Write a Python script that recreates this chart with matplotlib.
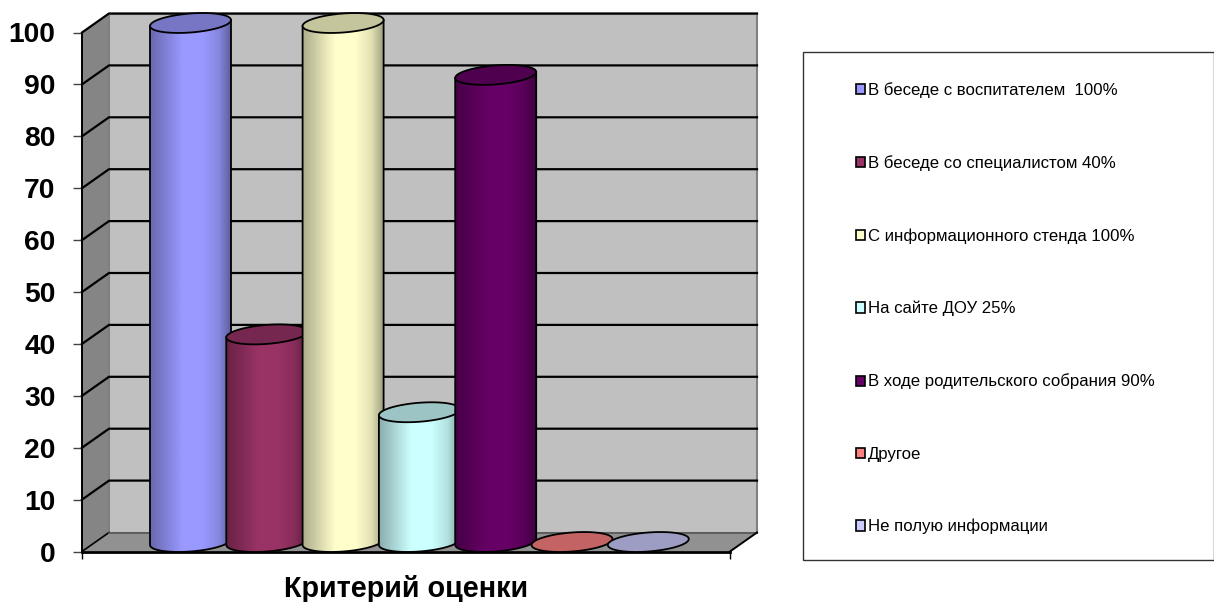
import numpy as np
import matplotlib
matplotlib.use('Agg')
import matplotlib.pyplot as plt
from matplotlib.patches import Patch, Polygon, Rectangle

labels = ['В беседе с воспитателем  100%', 'В беседе со специалистом 40%',
          'С информационного стенда 100%', 'На сайте ДОУ 25%',
          'В ходе родительского собрания 90%', 'Другое', 'Не полую информации']
values = [100, 40, 100, 25, 90, 0, 0]
colors = ['#9999FF', '#993366', '#FFFFCC', '#CCFFFF', '#660066', '#FF8080', '#CCCCFF']
yticks = [0, 10, 20, 30, 40, 50, 60, 70, 80, 90, 100]

W = 1214
H = 602
# front plane of the fake 3d box, in pixels
left = 82
right = 730
y0 = 551.5
y100 = 32.5
step = 76.3       # pixels between bars
first = 177.0     # front position of first bar
depth_x = 27.0
depth_y = 19.0

plt.rcParams['font.family'] = ['Liberation Sans', 'DejaVu Sans']

fig = plt.figure(figsize=(W / 100, H / 100), dpi=100)
ax = fig.add_axes([left / W, 1 - y0 / H, (right - left) / W, (y0 - y100) / H])
ax.patch.set_visible(False)

sx = step
sy = (y0 - y100) / 100
xmin = (left - first) / step
xmax = (right - first) / step
dx = depth_x / sx
dy = depth_y / sy


def shade(color, f):
    return tuple(c * f for c in matplotlib.colors.to_rgb(color))


def arc(i, v, t):
    # sheared ellipse, half way into the depth of the box
    a = 40.5
    b = 9.5
    s = 3.0
    x = i + dx / 2 + a * np.cos(t) / sx
    y = v + dy / 2 + (b * np.sin(t) + s * np.cos(t)) / sy
    return np.column_stack([x, y])


# walls
ax.add_patch(Polygon([(xmin, 0), (xmin + dx, dy), (xmin + dx, 100 + dy), (xmin, 100)],
                     fc='#858585', ec='none', zorder=1, clip_on=False))
ax.add_patch(Rectangle((xmin + dx, dy), xmax - xmin, 100, fc='#C0C0C0', ec='#808080',
                       lw=1.5, zorder=1, clip_on=False))
ax.add_patch(Polygon([(xmin, 0), (xmin + dx, dy), (xmax + dx, dy), (xmax, 0)],
                     fc='#919191', ec='none', zorder=1, clip_on=False))
for v in yticks[1:]:
    ax.plot([xmin, xmin + dx, xmax + dx], [v, v + dy, v + dy], color='black', lw=1.6,
            zorder=1.5, clip_on=False, solid_joinstyle='miter')
ax.plot([xmin, xmin + dx], [0, dy], color='black', lw=1.2, zorder=1.5, clip_on=False)
ax.plot([xmin + dx, xmax + dx], [dy, dy], color='#555555', lw=1.2, zorder=1.5, clip_on=False)
ax.plot([xmax, xmax + dx], [0, dy], color='black', lw=1.4, zorder=1.5, clip_on=False)

# cylinders
lo = np.linspace(np.pi, 2 * np.pi, 60)
full = np.linspace(0, 2 * np.pi, 120)
pos = [0.0, 0.15, 0.4, 0.65, 0.85, 1.0]
mult = [0.68, 0.8, 1.0, 1.0, 0.88, 0.62]
for i in range(len(values)):
    v = values[i]
    z = 3 + i
    if v > 0:
        bottom = arc(i, 0, lo)
        top = arc(i, v, lo)[::-1]
        body = Polygon(np.vstack([bottom, top]), fc='none', ec='none', zorder=z, clip_on=False)
        ax.add_patch(body)
        xs = np.linspace(0, 1, 200)
        f = np.interp(xs, pos, mult)
        grad = np.array([[shade(colors[i], k) for k in f]])
        x1 = i + dx / 2 - 40.5 / sx
        x2 = i + dx / 2 + 40.5 / sx
        im = ax.imshow(grad, extent=[x1, x2, -5, v + 10], aspect='auto', zorder=z,
                       interpolation='bilinear')
        im.set_clip_path(body)
        im.set_clip_box(fig.bbox)
        edge = np.vstack([top[-1:], bottom, top[:1]])
        ax.plot(edge[:, 0], edge[:, 1], color='black', lw=1.3, zorder=z + 0.1, clip_on=False)
    cap = arc(i, v, full)
    ax.add_patch(Polygon(cap, fc=shade(colors[i], 0.77), ec='black', lw=1.3, zorder=z + 0.2,
                         clip_on=False))

ax.set_xlim(xmin, xmax)
ax.set_ylim(0, 100)

for name in ['top', 'right']:
    ax.spines[name].set_visible(False)
ax.spines['left'].set_linewidth(1.4)
ax.spines['bottom'].set_linewidth(2.0)
ax.set_yticks(yticks)
ax.set_xticks([xmin, xmax])
ax.set_xticklabels(['', ''])
ax.tick_params(axis='y', length=6.5, width=1.0, color='#444444', pad=12.5, labelsize=20.3)
ax.tick_params(axis='x', length=5, width=1.0, color='black')
for t in ax.get_yticklabels():
    t.set_fontweight('bold')
ax.set_xlabel('Критерий оценки', fontsize=20.7, fontweight='bold', labelpad=8.5)

# legend
fig.add_artist(Rectangle((802.5 / W, 1 - 560 / H), 411 / W, 507.5 / H, fc='white',
                         ec='#333333', lw=1.0, transform=fig.transFigure))
handles = [Patch(fc=c, ec='black', lw=1.2) for c in colors]
fig.legend(handles, labels, loc='upper left', bbox_to_anchor=(856 / W, 1 - 82 / H),
           frameon=False, fontsize=12.05, labelspacing=3.42, handlelength=0.55,
           handleheight=0.55, handletextpad=0.18, borderpad=0, borderaxespad=0)

fig.savefig('out.png', dpi=100)
